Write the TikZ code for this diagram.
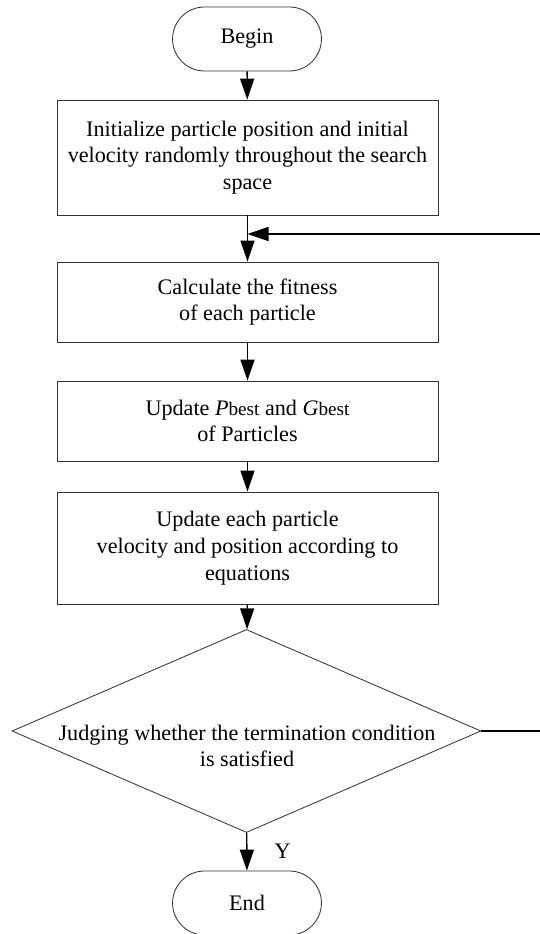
\documentclass[tikz,border=0pt]{standalone}
\usepackage{fontspec}
\setmainfont{Liberation Serif}
\usetikzlibrary{shapes.misc, shapes.geometric, arrows.meta}

\begin{document}
\begin{tikzpicture}[x = 0.6pt, y = 0.6pt,
                font = \fontsize{13.3}{16}\selectfont,
                terminal/.style = {draw = black!80, line width = 0.5pt, rounded rectangle, minimum width = 96pt, minimum height = 38.4pt},
                process/.style = {draw = black!80, line width = 0.5pt, rectangle, minimum width = 228.6pt, align = center},
                decision/.style = {draw = black!80, line width = 0.5pt, diamond, inner sep = 0pt, minimum width = 281.4pt, minimum height = 121.8pt},
                flow/.style = {line width = 0.8pt, -{Triangle[length = 12.6pt, width = 8.4pt]}}]
                \useasboundingbox (0,0) rectangle (539,-934);
                \node[terminal] (begin) at (247,-39) {Begin};
                \node[process, minimum height = 69pt] (init) at (247.5,-157.5) {Initialize particle position and initial\\ velocity randomly throughout the search\\ space};
                \node[process, minimum height = 48pt] (fit) at (247.5,-302) {Calculate the fitness\\ of each particle};
                \node[process, minimum height = 48pt] (best) at (247.5,-421) {Update \textit{P}{\fontsize{11.5}{16}\selectfont best} and \textit{G}{\fontsize{11.5}{16}\selectfont best}\\ of Particles};
                \node[process, minimum height = 67.2pt] (move) at (247.5,-548) {Update each particle\\ velocity and position according to\\ equations};
                \node[decision] (judge) at (246.5,-731) {};
                \node[align = center] (judgetext) at (247,-746) {Judging whether the termination condition\\ is satisfied};
                \node[terminal] (end) at (247,-903) {End};
                \coordinate (back) at (247.5,-234);
                \coordinate (out) at (542,-731);
                \draw[flow] (begin) -- (init);
                \draw[line width = 0.8pt] (init) -- (back);
                \draw[flow] (back) -- (fit);
                \draw[flow] (fit) -- (best);
                \draw[flow] (best) -- (move);
                \draw[flow] (move) -- (judge);
                \draw[flow] (judge) -- node[right = 13pt, pos = 0.5] {Y} (end);
                \draw[flow] (judge.east) -- (out) |- (back);
\end{tikzpicture}
\end{document}
